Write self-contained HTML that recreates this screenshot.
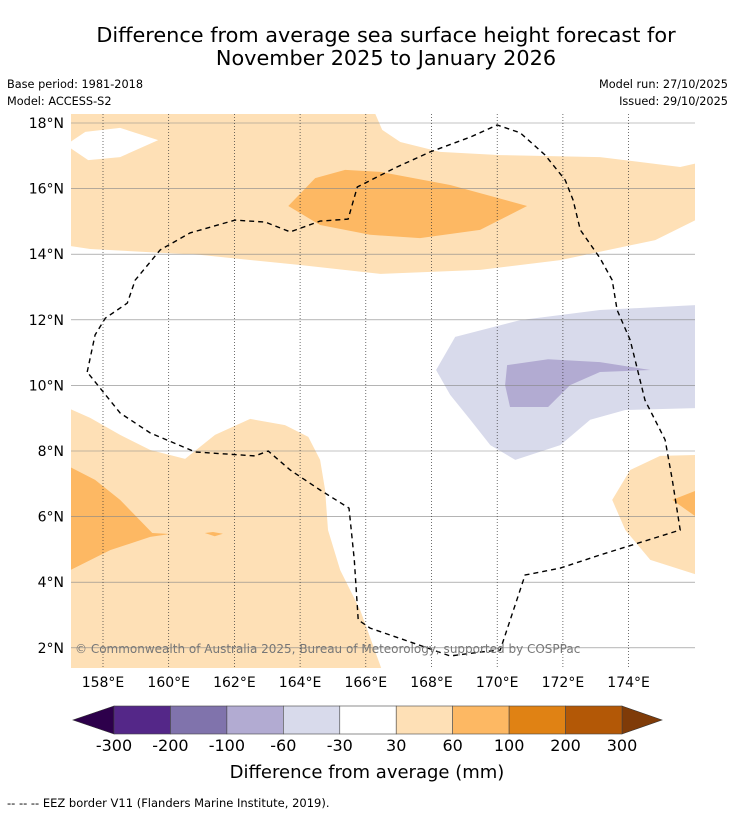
<!DOCTYPE html>
<html><head><meta charset="utf-8"><style>
body{margin:0;background:#fff;font-family:"Liberation Sans","DejaVu Sans",sans-serif;}
svg text{font-family:"DejaVu Sans","Liberation Sans",sans-serif;}
</style></head><body>
<svg id="c" width="736" height="816" viewBox="0 0 736 816">
<text x="386" y="42" font-size="20.8" text-anchor="middle">Difference from average sea surface height forecast for</text>
<text x="386" y="65" font-size="20.8" text-anchor="middle">November 2025 to January 2026</text>
<text x="7" y="88" font-size="11.3">Base period: 1981-2018</text>
<text x="7" y="105" font-size="11.3">Model: ACCESS-S2</text>
<text x="728" y="88" font-size="11.3" text-anchor="end">Model run: 27/10/2025</text>
<text x="728" y="105" font-size="11.3" text-anchor="end">Issued: 29/10/2025</text>
<defs><clipPath id="mc"><rect x="71" y="114" width="624" height="554"/></clipPath></defs>
<g id="map" clip-path="url(#mc)"></g>
<g id="axes"></g>
<g id="cbar"></g>
<text x="367" y="778" font-size="18" text-anchor="middle">Difference from average (mm)</text>
<text x="7" y="807" font-size="11.5">--  --  -- EEZ border V11 (Flanders Marine Institute, 2019).</text>
</svg>
<script>
const lonTicks=[158,160,162,164,166,168,170,172,174];
const latTicks=[2,4,6,8,10,12,14,16,18];
const levels=[-300,-200,-100,-60,-30,30,60,100,200,300];
const levelColors=["#542788","#8073ac","#b2abd2","#d8daeb","#ffffff","#fee0b6","#fdb863","#e08214","#b35806"];
const extColors=["#2d004b","#7f3b08"];
const regions=[
{name:"top-light-orange",c:"#fee0b6",p:[[157,18.3],[166.28,18.3],[166.5,17.79],[167.05,17.42],[168.26,17.12],[170.09,17.02],[173.13,16.96],[175.57,16.66],[176.1,16.78],[176.1,15.07],[174.81,14.43],[171.92,13.82],[169.48,13.52],[166.44,13.4],[164,13.67],[160.96,13.98],[157.61,14.16],[157,14.25]]},
{name:"top-white-hole",c:"#ffffff",p:[[157,17.42],[157.46,17.73],[158.52,17.85],[159.68,17.48],[158.52,16.96],[157.55,16.87],[157,17.24]]},
{name:"top-orange",c:"#fdb863",p:[[163.64,15.47],[164.46,16.32],[165.37,16.57],[166.44,16.51],[168.57,16.11],[170.91,15.47],[169.48,14.74],[167.65,14.49],[166.13,14.59],[164.61,14.89]]},
{name:"bottom-left-light-orange",c:"#fee0b6",p:[[157,9.28],[157.61,9.01],[158.52,8.49],[159.44,8.03],[160.5,7.76],[161.41,8.49],[162.48,8.98],[163.54,8.79],[164.25,8.43],[164.61,7.73],[164.76,6.81],[164.85,5.59],[165.22,4.37],[165.83,3.15],[166.5,1.3],[157,1.3]]},
{name:"left-orange",c:"#fdb863",p:[[157,7.51],[157.76,7.12],[158.52,6.51],[159.5,5.5],[160.04,5.47],[159.44,5.38],[158.22,4.98],[157,4.37]]},
{name:"small-orange",c:"#fdb863",p:[[161.1,5.5],[161.35,5.53],[161.65,5.48],[161.4,5.4]]},
{name:"right-light-orange",c:"#fee0b6",p:[[176.1,7.88],[174.96,7.85],[174.05,7.42],[173.5,6.51],[173.9,5.59],[174.66,4.68],[176.1,4.22]]},
{name:"right-orange",c:"#fdb863",p:[[176.1,6.81],[175.33,6.51],[176.1,5.96]]},
{name:"light-purple",c:"#d8daeb",p:[[168.14,10.47],[168.72,11.48],[170.7,11.99],[173.13,12.3],[176.1,12.45],[176.1,9.31],[173.9,9.25],[172.83,8.95],[171.92,8.18],[170.55,7.73],[169.79,8.18],[169.18,8.95],[168.57,9.71]]},
{name:"mid-purple",c:"#b2abd2",p:[[170.3,10.62],[171.55,10.8],[173.13,10.71],[174.66,10.47],[173.13,10.41],[172.22,10.01],[171.55,9.34],[170.39,9.34],[170.24,10.01]]}
];
const eez=[[157.52,10.41],[157.76,11.54],[158.07,12.05],[158.74,12.51],[158.98,13.21],[159.74,14.13],[160.65,14.65],[162.02,15.04],[162.94,14.98],[163.7,14.68],[164.61,15.01],[165.46,15.07],[165.74,16.05],[166.89,16.63],[167.96,17.12],[169.18,17.57],[170,17.94],[170.7,17.7],[171.46,17.02],[172.07,16.26],[172.31,15.65],[172.53,14.74],[173.13,13.88],[173.5,13.21],[173.65,12.3],[174.05,11.38],[174.5,9.55],[175.11,8.34],[175.33,7.12],[175.57,5.59],[173.13,4.83],[171.92,4.43],[170.85,4.22],[170.09,1.93],[169.48,1.87],[168.57,1.75],[167.35,2.18],[166.13,2.6],[165.77,2.85],[165.65,4.68],[165.49,6.26],[164.61,6.81],[163.7,7.42],[163.03,8],[162.63,7.85],[160.81,7.97],[159.44,8.55],[158.52,9.16],[157.52,10.41]];

const NS="http://www.w3.org/2000/svg";
const X=lon=>103+(lon-158)*32.85;
const Y=lat=>123+(18-lat)*32.8;
function mk(tag,attrs,parent){const e=document.createElementNS(NS,tag);for(const k in attrs)e.setAttribute(k,attrs[k]);parent.appendChild(e);return e;}
const map=document.getElementById('map'), axes=document.getElementById('axes'), cb=document.getElementById('cbar');
regions.forEach(r=>{
 const e=mk('polygon',{points:r.p.map(q=>X(q[0]).toFixed(1)+','+Y(q[1]).toFixed(1)).join(' '),fill:r.c,stroke:'none'},map);
 
 
});
latTicks.forEach(t=>{
 const l=mk('line',{x1:71,x2:695,y1:Y(t),y2:Y(t),stroke:'#888',"stroke-width":0.6},map);
 
 
 const tx=mk('text',{x:64,y:Y(t)+5,"font-size":14,"text-anchor":"end"},axes);tx.textContent=t+'°N';
 
 
});
lonTicks.forEach(t=>{
 const l=mk('line',{x1:X(t),x2:X(t),y1:114,y2:668,stroke:'#333',"stroke-width":0.7,"stroke-dasharray":"1,2"},map);
 
 
 const tx=mk('text',{x:X(t),y:687,"font-size":14,"text-anchor":"middle"},axes);tx.textContent=t+'°E';
 
 
});
const ez=mk('polyline',{points:eez.map(q=>X(q[0]).toFixed(1)+','+Y(q[1]).toFixed(1)).join(' '),fill:'none',stroke:'#000',"stroke-width":1.4,"stroke-dasharray":"5,4"},map);


const cp=mk('text',{x:75,y:653,"font-size":12,fill:'#777'},map);cp.textContent='© Commonwealth of Australia 2025, Bureau of Meteorology, supported by COSPPac';


const cx0=114,cx1=622,cy0=706,cy1=734,n=levelColors.length,w=(cx1-cx0)/n;
const lt=mk('polygon',{points:`${cx0},${cy0} ${cx0},${cy1} 73,${(cy0+cy1)/2}`,fill:extColors[0],stroke:'#333',"stroke-width":0.6},cb);


const rt=mk('polygon',{points:`${cx1},${cy0} ${cx1},${cy1} 662,${(cy0+cy1)/2}`,fill:extColors[1],stroke:'#333',"stroke-width":0.6},cb);


levelColors.forEach((c,i)=>{
 const r=mk('rect',{x:cx0+i*w,y:cy0,width:w,height:cy1-cy0,fill:c,stroke:'#444',"stroke-width":0.6},cb);
 
 
});
levels.forEach((v,i)=>{
 const tx=mk('text',{x:cx0+i*w,y:751,"font-size":16,"text-anchor":"middle"},cb);tx.textContent=v;
 
 
});
</script>
</body></html>
